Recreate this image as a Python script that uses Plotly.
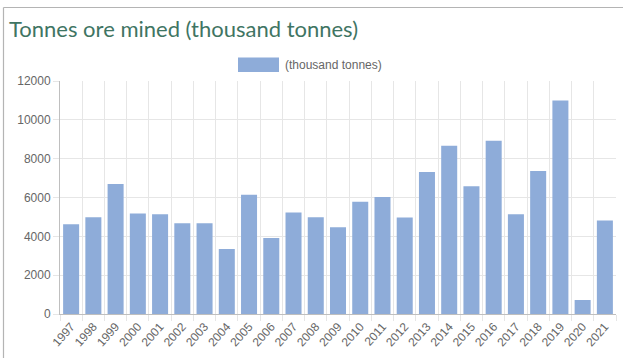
import plotly.graph_objects as go

# Annual ore tonnage, thousand tonnes
years = ["1997", "1998", "1999", "2000", "2001", "2002", "2003", "2004", "2005",
         "2006", "2007", "2008", "2009", "2010", "2011", "2012", "2013", "2014",
         "2015", "2016", "2017", "2018", "2019", "2020", "2021"]
tonnes = [4620, 4980, 6690, 5170, 5140, 4680, 4680, 3350, 6140,
          3920, 5230, 4980, 4470, 5780, 6030, 4970, 7310, 8660,
          6580, 8920, 5140, 7360, 11000, 720, 4810]
series_name = "(thousand tonnes)"
title_text = "Tonnes ore mined (thousand tonnes)"
y_ticks = [0, 2000, 4000, 6000, 8000, 10000, 12000]
y_tick_labels = [str(v) for v in y_ticks]

W, H = 623, 358
ML, MR, MT, MB = 60, 7, 81, 44
PW, PH = W - ML - MR, H - MT - MB

BAR = "#8eacd9"
GRID = "#e6e6e6"
AXIS = "#bfbfbf"
TXT = "#666666"
TICKFONT = dict(family="Liberation Sans, Arial, sans-serif", size=12, color=TXT)


def px(x):
    return (x - ML) / PW


def py(y):
    return 1 - (y - MT) / PH


fig = go.Figure(go.Bar(x=years, y=tonnes, marker=dict(color=BAR, line=dict(width=0)),
                       name=series_name, showlegend=False))

shapes = [
    # outer frame (top and left edges)
    dict(type="line", xref="paper", yref="paper", x0=px(3.5), x1=px(W), y0=py(7.5), y1=py(7.5),
         line=dict(color="#b4b4b4", width=1.2)),
    dict(type="line", xref="paper", yref="paper", x0=px(3.5), x1=px(3.5), y0=py(7.5), y1=py(H),
         line=dict(color="#b4b4b4", width=1.2)),
    # legend swatch
    dict(type="rect", xref="paper", yref="paper", x0=px(238), x1=px(279), y0=py(57.5), y1=py(72),
         fillcolor=BAR, line=dict(width=0)),
]

annotations = [
    dict(text=series_name, xref="paper", yref="paper", x=px(283), y=py(65), xanchor="left",
         yanchor="middle", showarrow=False, font=TICKFONT),
    dict(text=title_text, xref="paper", yref="paper", x=px(7), y=py(29), xanchor="left",
         yanchor="middle", showarrow=False,
         font=dict(family="Lato, sans-serif", size=22, color="#3f7563")),
]

fig.update_layout(
    width=W, height=H,
    margin=dict(l=ML, r=MR, t=MT, b=MB),
    paper_bgcolor="white", plot_bgcolor="white",
    bargap=0.28,
    shapes=shapes,
    annotations=annotations,
    xaxis=dict(type="category", tickson="boundaries", showgrid=True, gridcolor=GRID, gridwidth=1,
               ticks="outside", ticklen=6, tickcolor=GRID, tickangle=-48, tickfont=TICKFONT,
               showline=True, linecolor=AXIS, linewidth=1),
    yaxis=dict(range=[0, 12000], tickvals=y_ticks, ticktext=y_tick_labels, showgrid=True,
               gridcolor=GRID, gridwidth=1, ticks="outside", ticklen=6, tickcolor=GRID,
               tickfont=TICKFONT, showline=True, linecolor=AXIS, linewidth=1, zeroline=False),
)

fig.write_html("out.html")
